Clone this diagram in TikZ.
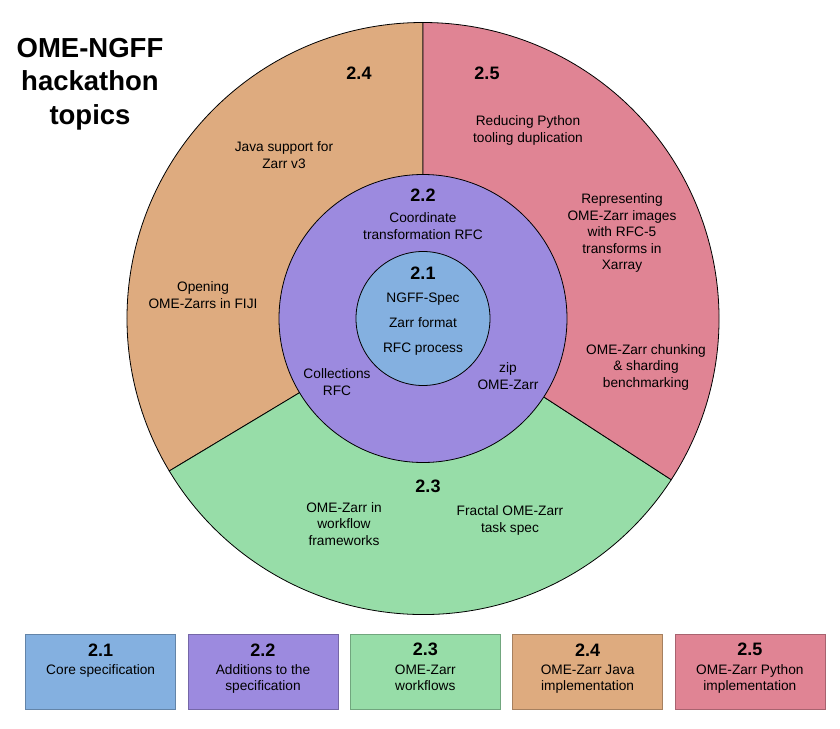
\documentclass[tikz,border=0pt]{standalone}
\usepackage{fontspec}
\setmainfont{Liberation Sans}
\usepackage{tikz}
\usetikzlibrary{positioning}
\definecolor{coreBlue}{HTML}{84B0E0}
\definecolor{addPurple}{HTML}{9C8ADF}
\definecolor{flowGreen}{HTML}{97DDA8}
\definecolor{javaOchre}{HTML}{DEAB7F}
\definecolor{pyRose}{HTML}{E08494}

\begin{document}
\begin{tikzpicture}[x=1pt,y=1pt,
  every node/.style={font=\fontsize{13.7}{16.5}\selectfont,inner sep=0pt,align=center},
  num/.style={font=\fontsize{18}{20}\selectfont\bfseries},
  ring/.style={draw=black,line width=0.8pt},
  legbox/.style={minimum width=150pt,minimum height=75pt,line width=0.5pt},
  legtxt/.style={font=\fontsize{13.7}{15.5}\selectfont,anchor=north},
]
\useasboundingbox (-423,-409.5) rectangle (417,318.5);

% Outer ring -- three sectors
\filldraw[ring,fill=javaOchre] (0,0) -- (90:296) arc[start angle=90,end angle=211,radius=296] -- cycle;
\filldraw[ring,fill=flowGreen] (0,0) -- (211:296) arc[start angle=211,end angle=327,radius=296] -- cycle;
\filldraw[ring,fill=pyRose]    (0,0) -- (-33:296) arc[start angle=-33,end angle=90,radius=296] -- cycle;

% Middle and inner rings
\filldraw[ring,fill=addPurple] (0,0) circle[radius=144];
\filldraw[ring,fill=coreBlue]  (0,0) circle[radius=67];

% Title -- top left
\node[font=\fontsize{27.5}{33.5}\selectfont\bfseries] (TITLE) at (-333,234.5)
  {OME-NGFF\\hackathon\\topics};

% 2.4 Java -- left sector
\node[num] (N24)  at (-64,245.5) {2.4};
\node      (JAVA) at (-139,163.5) {Java support for\\Zarr v3};
\node      (FIJI) at (-220,23.5)  {Opening\\OME-Zarrs in FIJI};

% 2.5 Python -- right sector
\node[num] (N25)  at (64,245.5) {2.5};
\node      (DUPL) at (105,188)   {Reducing Python\\tooling duplication};
\node      (XARR) at (199,85.5)  {Representing\\OME-Zarr images\\with RFC-5\\transforms in\\Xarray};
\node      (SHRD) at (223,-48.5) {OME-Zarr chunking\\\& sharding\\benchmarking};

% 2.3 workflows -- bottom sector
\node[num] (N23)  at (5,-167.5)  {2.3};
\node      (WFLW) at (-79,-205.5) {OME-Zarr in\\workflow\\frameworks};
\node      (FRCT) at (87,-202)    {Fractal OME-Zarr\\task spec};

% 2.2 additions -- middle ring
\node[num] (N22)   at (0,123.5)  {2.2};
\node      (COORD) at (0,92.5)   {Coordinate\\transformation RFC};
\node      (COLL)  at (-86,-63.5) {Collections\\RFC};
\node      (ZIP)   at (85,-57.5)  {zip\\OME-Zarr};

% 2.1 core -- inner circle
\node[num] (N21)  at (0,45.5)  {2.1};
\node      (SPEC) at (0,19.5)  {NGFF-Spec};
\node      (ZFMT) at (0,-4.5)  {Zarr format};
\node      (RFCP) at (0,-30.5) {RFC process};

% Legend -- bottom row
\foreach \col/\lab/\txt [count=\i] in {
  coreBlue/2.1/{Core specification},
  addPurple/2.2/{Additions to the\\specification},
  flowGreen/2.3/{OME-Zarr\\workflows},
  javaOchre/2.4/{OME-Zarr Java\\implementation},
  pyRose/2.5/{OME-Zarr Python\\implementation}} {
  \node[legbox,fill=\col,draw=\col!75!black] (leg\i) at (-484.6+162.3*\i,-353) {};
  \node[num]    (legnum\i) at ([yshift=-16pt]leg\i.north) {\lab};
  \node[legtxt] (legtxt\i) at ([yshift=-31pt]leg\i.north) {\txt};
}
\end{tikzpicture}
\end{document}
